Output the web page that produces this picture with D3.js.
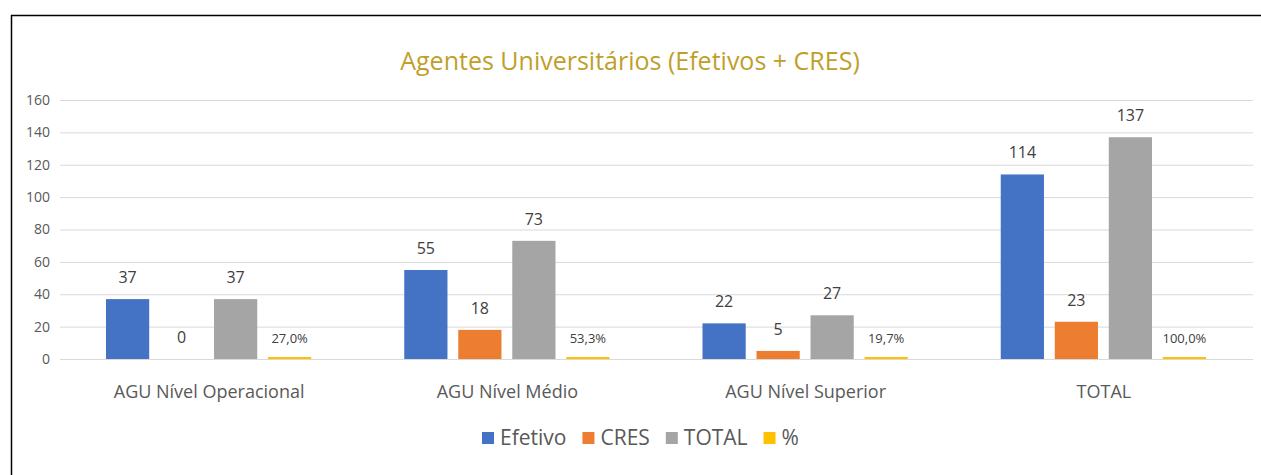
<!DOCTYPE html>
<html>
<head>
<meta charset="utf-8">
<script src="https://cdn.jsdelivr.net/npm/d3@7"></script>
<style>
  body { margin: 0; background: #fff; }
  text { font-family: "Open Sans", sans-serif; }
</style>
</head>
<body>
<div id="chart"></div>
<script>
// data
var categories = ["AGU Nível Operacional", "AGU Nível Médio", "AGU Nível Superior", "TOTAL"];
var seriesNames = ["Efetivo", "CRES", "TOTAL", "%"];
var efetivo = [37, 55, 22, 114];
var cres = [0, 18, 5, 23];
var total = [37, 73, 27, 137];
var pct = [0.270, 0.533, 0.197, 1.000];
var yTicks = [0, 20, 40, 60, 80, 100, 120, 140, 160];
var colors = ["#4472C4", "#ED7D31", "#A5A5A5", "#FFC000"];

var W = 1261, H = 475;
var plotLeft = 60, plotRight = 1253, plotTop = 100, plotBottom = 359;

var svg = d3.select("#chart").append("svg")
  .attr("width", W)
  .attr("height", H);

// frame (only top and left edges show in the picture)
svg.append("line").attr("x1", 11).attr("x2", W).attr("y1", 15.5).attr("y2", 15.5)
  .attr("stroke", "#000").attr("stroke-width", 1.5);
svg.append("line").attr("x1", 11.5).attr("x2", 11.5).attr("y1", 15).attr("y2", H)
  .attr("stroke", "#000").attr("stroke-width", 1.5);

svg.append("text")
  .attr("x", 630).attr("y", 70)
  .attr("text-anchor", "middle")
  .attr("fill", "#BF9F2A")
  .style("font-size", "25px")
  .text("Agentes Universitários (Efetivos + CRES)");

var y = d3.scaleLinear().domain([0, 160]).range([plotBottom, plotTop]);
var x0 = d3.scaleBand().domain(categories).range([plotLeft, plotRight]);
var x1 = d3.scaleBand().domain(seriesNames)
  .range([46, x0.bandwidth() - 47]).paddingInner(0.2);

// gridlines + y labels
var yAxis = d3.axisLeft(y).tickValues(yTicks).tickSize(-(plotRight - plotLeft)).tickPadding(10);
var gy = svg.append("g").attr("transform", "translate(" + plotLeft + ",0)").call(yAxis);
gy.select(".domain").remove();
gy.selectAll(".tick line").attr("stroke", "#D9D9D9").attr("stroke-width", 1);
gy.selectAll(".tick text").attr("fill", "#595959").style("font-size", "14px")
  .attr("x", -10);

// x category labels
var xAxis = d3.axisBottom(x0).tickSize(0).tickPadding(0);
var gx = svg.append("g").attr("transform", "translate(0," + plotBottom + ")").call(xAxis);
gx.select(".domain").remove();
gx.selectAll(".tick text").attr("fill", "#595959").style("font-size", "18px")
  .attr("dy", 0).attr("y", 39);

var rows = categories.map(function (c, i) {
  return { cat: c, vals: [efetivo[i], cres[i], total[i], pct[i]] };
});

var groups = svg.selectAll("g.grp").data(rows).enter().append("g")
  .attr("class", "grp")
  .attr("transform", function (d) { return "translate(" + x0(d.cat) + ",0)"; });

var cells = groups.selectAll("g.cell")
  .data(function (d) { return d.vals.map(function (v, j) { return { s: seriesNames[j], v: v, j: j }; }); })
  .enter().append("g").attr("class", "cell");

// tiny % values still get a visible sliver, zero gets nothing
function barH(d) {
  if (d.v <= 0) return 0;
  return Math.max(2, plotBottom - y(d.v));
}

cells.append("rect")
  .attr("x", function (d) { return x1(d.s); })
  .attr("width", x1.bandwidth())
  .attr("y", function (d) { return plotBottom - barH(d); })
  .attr("height", barH)
  .attr("fill", function (d) { return colors[d.j]; });

cells.append("text")
  .attr("x", function (d) { return x1(d.s) + x1.bandwidth() / 2; })
  .attr("y", function (d) { return d.j == 3 ? plotBottom - 16 : y(d.v) - 16; })
  .attr("text-anchor", "middle")
  .attr("fill", "#404040")
  .style("font-size", function (d) { return d.j == 3 ? "13px" : "16px"; })
  .text(function (d) {
    if (d.j == 3) return d3.format(".1f")(d.v * 100).replace(".", ",") + "%";
    return d.v;
  });

// legend
var legend = svg.append("g").attr("transform", "translate(0,438)");
var lx = 482;
seriesNames.forEach(function (name, i) {
  legend.append("rect").attr("x", lx).attr("y", -6).attr("width", 12).attr("height", 12)
    .attr("fill", colors[i]);
  var t = legend.append("text").attr("x", lx + 18).attr("y", 7)
    .attr("fill", "#595959").style("font-size", "21px").text(name);
  lx += 18 + t.node().getComputedTextLength() + 16;
});
</script>
</body>
</html>
